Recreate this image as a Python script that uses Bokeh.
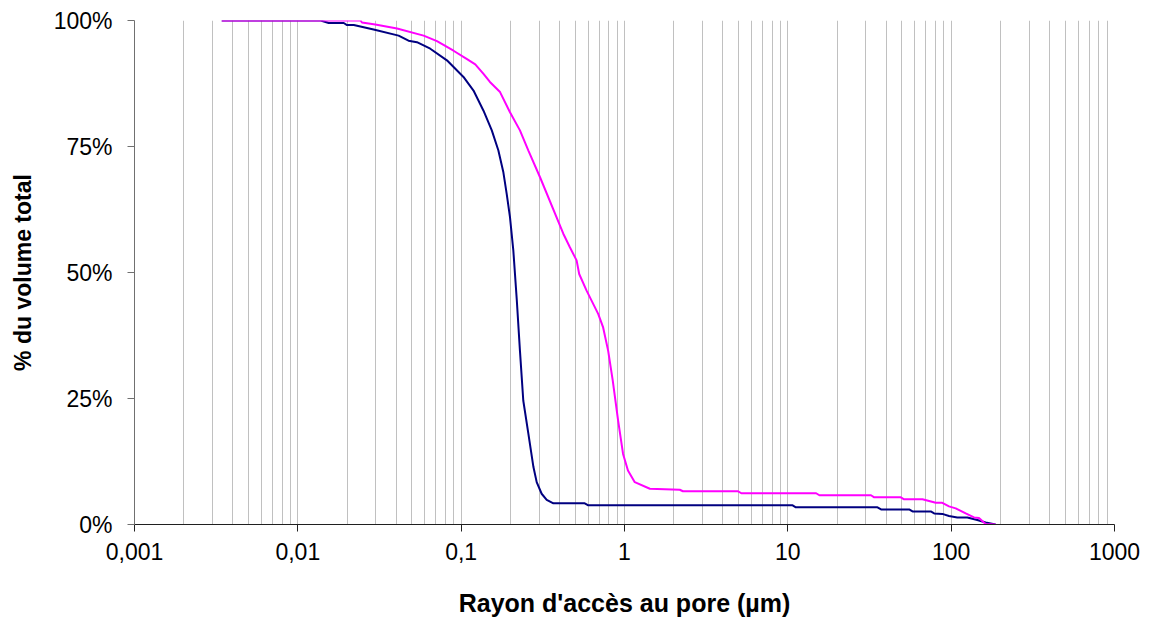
from bokeh.plotting import figure
from bokeh.models import Range1d, FixedTicker, ColumnDataSource
from bokeh.embed import file_html
from bokeh.resources import INLINE

# ---- data ----
navy_x = [0.00342, 0.0138, 0.01545, 0.0191, 0.0200, 0.0220, 0.0291, 0.0414, 0.0476, 0.0536,
          0.0647, 0.0818, 0.1033, 0.119, 0.137, 0.154, 0.169, 0.181, 0.190, 0.199,
          0.2086, 0.219, 0.229, 0.240, 0.258, 0.277, 0.290, 0.311, 0.334, 0.367,
          0.571, 0.600, 10.7, 11.2, 35.4, 37.2, 55.3, 58.0, 75.0, 78.7,
          88.3, 97.0, 109.0, 125.6, 144.5, 162.6, 187.0]
navy_y = [100, 100, 99.5, 99.5, 99.1, 99.1, 98.2, 97.0, 96.0, 95.7,
          94.4, 92.1, 88.8, 86.1, 82.1, 78.2, 74.2, 70.0, 65.6, 61.0,
          54.4, 44.6, 34.5, 24.6, 18.0, 11.4, 8.4, 6.1, 4.9, 4.2,
          4.2, 3.8, 3.8, 3.4, 3.4, 3.0, 3.0, 2.6, 2.6, 2.2,
          2.1, 1.7, 1.4, 1.4, 0.9, 0.4, 0.0]

magenta_x = [0.00342, 0.0242, 0.0247, 0.0298, 0.0405, 0.0589, 0.0711, 0.0898, 0.108, 0.122,
             0.137, 0.150, 0.173, 0.199, 0.229, 0.258, 0.304, 0.422, 0.463, 0.509,
             0.528, 0.586, 0.690, 0.740, 0.794, 0.847, 0.914, 0.980, 1.05, 1.156,
             1.43, 2.18, 2.28, 4.94, 5.19, 14.9, 15.6, 32.3, 33.8, 49.2,
             51.5, 66.7, 80.5, 88.3, 97.0, 106.6, 122.8, 138.0, 148.0, 162.6,
             187.0]
magenta_y = [100, 100, 99.6, 99.2, 98.4, 97.0, 95.9, 94.0, 92.4, 91.3,
             89.4, 87.8, 85.8, 81.8, 78.2, 74.2, 68.9, 57.7, 55.0, 52.4,
             49.7, 46.4, 41.8, 39.1, 34.5, 28.6, 20.6, 14.0, 10.7, 8.4,
             7.1, 6.9, 6.6, 6.6, 6.2, 6.2, 5.8, 5.8, 5.4, 5.4,
             5.0, 5.0, 4.3, 4.3, 3.6, 3.2, 2.2, 1.4, 1.3, 0.1,
             0.0]

x_ticks = [0.001, 0.01, 0.1, 1, 10, 100, 1000]
x_tick_labels = ["0,001", "0,01", "0,1", "1", "10", "100", "1000"]
y_ticks = [0, 25, 50, 75, 100]
y_tick_labels = ["0%", "25%", "50%", "75%", "100%"]

x_title = "Rayon d'accès au pore (µm)"
y_title = "% du volume total"

# ---- figure ----
p = figure(width=1149, height=621, x_axis_type="log",
           x_range=Range1d(0.001, 1000), y_range=Range1d(0, 100),
           output_backend="svg", toolbar_location=None,
           min_border_left=134, min_border_right=35,
           min_border_top=20, min_border_bottom=97)
p.outline_line_color = None
p.background_fill_color = "white"
p.border_fill_color = "white"

minor = []
for d in x_ticks[:-1]:
    for k in range(2, 10):
        minor.append(d * k)
p.xaxis.ticker = FixedTicker(ticks=x_ticks, minor_ticks=minor)
p.xaxis.major_label_overrides = {t: l for t, l in zip(x_ticks, x_tick_labels)}
p.yaxis.ticker = FixedTicker(ticks=y_ticks)
p.yaxis.major_label_overrides = {t: l for t, l in zip(y_ticks, y_tick_labels)}

p.xgrid.grid_line_color = "#c0c0c0"
p.xgrid.grid_line_width = 1
p.xgrid.minor_grid_line_color = "#c0c0c0"
p.xgrid.minor_grid_line_width = 1
p.ygrid.grid_line_color = None

for ax in (p.xaxis[0], p.yaxis[0]):
    ax.major_tick_in = 0
    ax.major_tick_out = 7
    ax.minor_tick_line_color = None
    ax.major_label_text_font = "Liberation Sans"
    ax.major_label_text_font_size = "23px"
    ax.major_label_text_color = "black"
    ax.axis_label_text_font = "Liberation Sans"
    ax.axis_label_text_font_style = "bold"
    ax.axis_label_text_color = "black"

p.xaxis.axis_line_color = "#202020"
p.xaxis.major_tick_line_color = "#202020"
p.yaxis.axis_line_color = "#707070"
p.yaxis.major_tick_line_color = "#707070"

p.xaxis.axis_label = x_title
p.yaxis.axis_label = y_title
p.xaxis.axis_label_text_font_size = "25px"
p.yaxis.axis_label_text_font_size = "23px"
p.xaxis.major_label_standoff = 11
p.yaxis.major_label_standoff = 15
p.xaxis.axis_label_standoff = 26
p.yaxis.axis_label_standoff = 15

src_n = ColumnDataSource(dict(x=navy_x, y=navy_y))
src_m = ColumnDataSource(dict(x=magenta_x, y=magenta_y))
p.line("x", "y", source=src_n, line_color="#000080", line_width=2)
p.line("x", "y", source=src_m, line_color="#FF00FF", line_width=2)

open("out.html", "w").write(file_html(p, INLINE))
